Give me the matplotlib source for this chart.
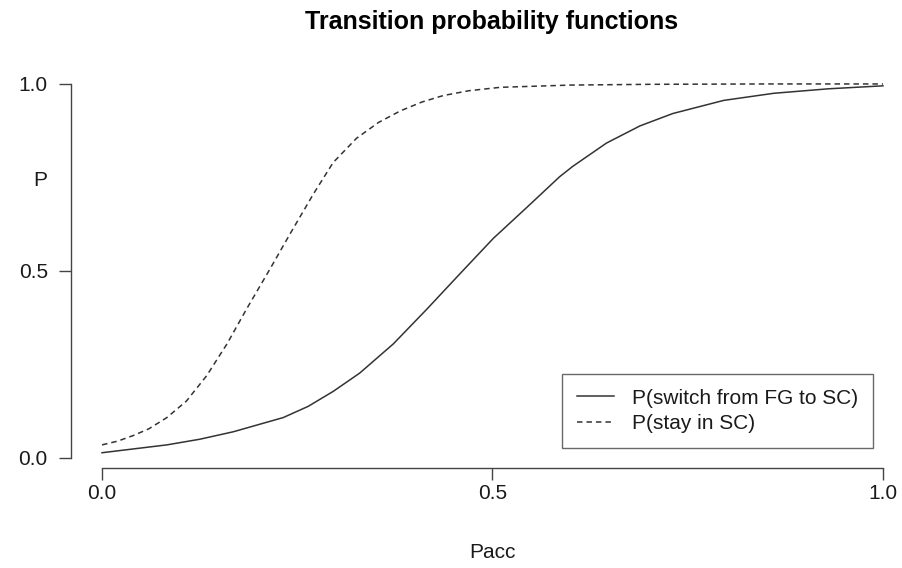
import matplotlib
matplotlib.use('Agg')
import matplotlib.pyplot as plt

plt.rcParams['font.family'] = ['Liberation Sans', 'DejaVu Sans']

# P(switch from FG to SC) as a function of Pacc
switch_x = [0.0, 0.083, 0.125, 0.168, 0.232, 0.264, 0.296, 0.330, 0.373, 0.416,
            0.459, 0.501, 0.544, 0.586, 0.603, 0.646, 0.689, 0.731, 0.796, 0.860,
            0.930, 1.0]
switch_p = [0.014, 0.035, 0.050, 0.070, 0.108, 0.138, 0.178, 0.227, 0.305, 0.398,
            0.494, 0.587, 0.670, 0.752, 0.780, 0.842, 0.888, 0.921, 0.956, 0.975,
            0.987, 0.995]

# P(stay in SC) as a function of Pacc
stay_x = [0.0, 0.020, 0.040, 0.060, 0.083, 0.108, 0.134, 0.160, 0.185, 0.215,
          0.241, 0.271, 0.296, 0.326, 0.354, 0.382, 0.410, 0.437, 0.470, 0.510,
          0.600, 0.700, 0.850, 1.0]
stay_p = [0.035, 0.045, 0.060, 0.078, 0.108, 0.152, 0.220, 0.305, 0.398, 0.505,
          0.600, 0.707, 0.790, 0.855, 0.897, 0.928, 0.952, 0.969, 0.982, 0.991,
          0.997, 0.999, 1.0, 1.0]

LABELS = ['P(switch from FG to SC)', 'P(stay in SC)']
TICKS = [0.0, 0.5, 1.0]
TICK_LABELS = ['0.0', '0.5', '1.0']

LINE_COLOR = '#333333'
AXIS_COLOR = '#444444'
TEXT_COLOR = '#1a1a1a'
FONT_SIZE = 15

fig = plt.figure(figsize=(9.02, 5.68), dpi=100)
ax = fig.add_axes([0.0785, 0.1766, 0.935, 0.6993])

ax.plot(switch_x, switch_p, color=LINE_COLOR, lw=1.1, label=LABELS[0])
ax.plot(stay_x, stay_p, color=LINE_COLOR, lw=1.1, dashes=(3.6, 2.6), label=LABELS[1])

ax.set_xlim(-0.04, 1.04)
ax.set_ylim(-0.026, 1.036)

for side in ['top', 'right']:
    ax.spines[side].set_visible(False)
ax.spines['left'].set_bounds(0, 1)
ax.spines['bottom'].set_bounds(0, 1)
for side in ['left', 'bottom']:
    ax.spines[side].set_color(AXIS_COLOR)
    ax.spines[side].set_linewidth(1.0)

ax.set_xticks(TICKS)
ax.set_xticklabels(TICK_LABELS)
ax.set_yticks(TICKS)
ax.set_yticklabels(TICK_LABELS)
ax.tick_params(axis='both', length=8.6, width=1.0, color=AXIS_COLOR,
               labelsize=FONT_SIZE, labelcolor=TEXT_COLOR)
ax.tick_params(axis='x', pad=3.5)
ax.tick_params(axis='y', pad=8)

fig.text(492 / 902, 1 - 22 / 568, 'Transition probability functions',
         ha='center', va='center', fontsize=18, fontweight='bold')
fig.text(492 / 902, 1 - 553 / 568, 'Pacc', ha='center', va='center',
         fontsize=FONT_SIZE, color=TEXT_COLOR)
fig.text(40 / 902, 1 - 180 / 568, 'P', ha='center', va='center',
         fontsize=FONT_SIZE, color=TEXT_COLOR)

leg = ax.legend(loc='lower right', bbox_to_anchor=(873 / 902, 1 - 448 / 568),
                bbox_transform=fig.transFigure, borderaxespad=0,
                fancybox=False, frameon=True, fontsize=FONT_SIZE,
                handlelength=1.8, handletextpad=0.85, borderpad=0.72,
                labelspacing=0.3)
leg.get_frame().set_edgecolor(AXIS_COLOR)
leg.get_frame().set_linewidth(1.0)
for text in leg.get_texts():
    text.set_color(TEXT_COLOR)

fig.savefig('out.png', dpi=100)
